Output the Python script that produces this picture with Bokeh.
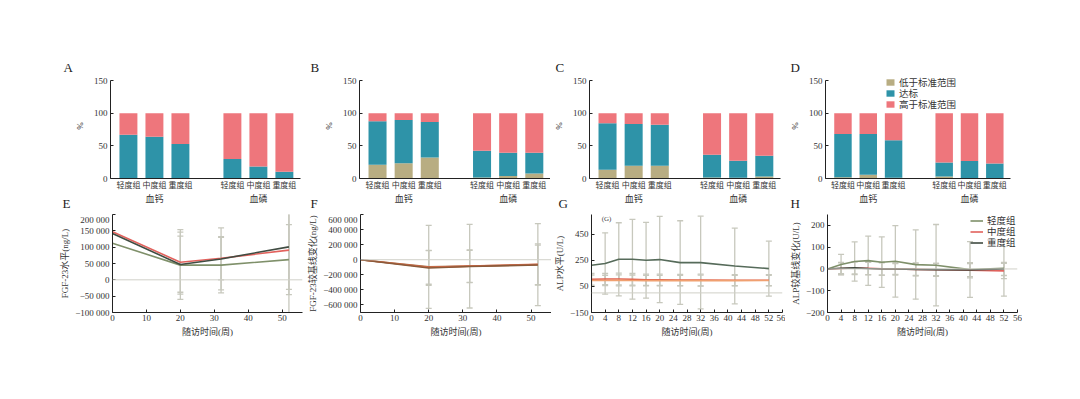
from bokeh.plotting import figure
from bokeh.layouts import column, row
from bokeh.models import (ColumnDataSource, FixedTicker, LinearAxis, Range1d,
                          Label, Legend, LegendItem, Span, Title)
from bokeh.embed import file_html
from bokeh.resources import INLINE

FONT = "'Liberation Serif', 'Noto Sans CJK SC'"

# ---------------- data ----------------
groups = ["轻度组", "中度组", "重度组"]
elements = ["血钙", "血磷"]
status = ["低于标准范围", "达标", "高于标准范围"]
status_colors = ["#b8ad82", "#2e93a8", "#ee767c"]

# stacked % (6 bars: 血钙 轻/中/重, 血磷 轻/中/重); high = 100 - low - ok
A_low = [0, 0, 0, 0, 0, 0]
A_ok = [67, 64, 52.7, 29.7, 18.4, 10.2]
B_low = [21, 23.5, 32.3, 1.5, 4, 7.7]
B_ok = [66.5, 66.1, 54.2, 41, 35.4, 31.7]
C_low = [13.3, 19.5, 19.5, 1.5, 1, 3]
C_ok = [71.2, 64, 62.9, 34.9, 26, 31.8]
D_low = [2, 5.6, 1, 3, 0, 0]
D_ok = [66, 62.4, 57.4, 21.6, 26.6, 23]

line_colors = ["#7f906a", "#e2625d", "#404c42"]

# E: FGF-23 level (ng/L)
E_weeks = [0, 20, 32, 52]
E_mild = [112000, 45000, 45000, 62000]
E_mod = [147000, 54000, 66000, 91000]
E_sev = [142000, 47000, 64000, 101000]
E_mild_sd = [0, 89000, 85000, 107000]
E_mod_sd = [0, 92000, 66000, 120000]
E_sev_sd = [0, 107000, 95000, 300000]

# F: FGF-23 change from baseline (ng/L)
F_weeks = [0, 20, 32, 52]
F_mild = [0, -95000, -85000, -65000]
F_mod = [0, -100000, -85000, -60000]
F_sev = [0, -110000, -90000, -70000]
F_mild_sd = [0, 550000, 555000, 545000]
F_mod_sd = [0, 225000, 215000, 270000]
F_sev_sd = [0, 230000, 215000, 265000]

# G: ALP level (U/L)
G_weeks = [0, 4, 8, 12, 16, 20, 26, 32, 42, 52]
G_mild = [212, 225, 257, 257, 250, 255, 232, 232, 206, 186]
G_mod = [105, 106, 106, 104, 101, 100, 99, 98, 97, 97]
G_sev = [95, 95, 96, 95, 94, 94, 94, 94, 94, 95]
G_mild_sd = [0, 235, 280, 305, 290, 330, 320, 355, 290, 210]
G_mod_sd = [45, 43, 45, 45, 43, 43, 43, 45, 42, 43]
G_sev_sd = [42, 40, 42, 42, 40, 40, 40, 42, 40, 40]

# H: ALP change from baseline (U/L)
H_weeks = [0, 4, 8, 12, 16, 20, 26, 32, 42, 52]
H_mild = [0, 20, 34, 38, 31, 35, 20, 17, -3, 3]
H_mod = [0, 2, 4, 3, 1, 0, -2, -4, -6, -9]
H_sev = [0, 3, 5, 2, 0, 0, -2, -3, -5, 0]
H_mild_sd = [0, 47, 90, 113, 116, 164, 159, 187, 128, 128]
H_mod_sd = [0, 28, 30, 30, 30, 28, 30, 30, 35, 35]
H_sev_sd = [0, 25, 28, 28, 28, 25, 28, 28, 30, 30]


def fmt(v):
    s = f"{abs(int(v)):,}".replace(",", " ")
    return ("−" + s) if v < 0 else s


def style(p):
    p.grid.visible = False
    p.outline_line_color = None
    p.background_fill_color = None
    p.border_fill_color = None
    for ax in p.axis:
        ax.axis_line_color = "#222222"
        ax.major_tick_line_color = "#222222"
        ax.major_tick_in = 3
        ax.major_tick_out = 0
        ax.minor_tick_line_color = None
        ax.major_label_text_font = FONT
        ax.major_label_text_font_size = "9px"
        ax.major_label_text_color = "#333333"
        ax.axis_label_text_font = FONT
        ax.axis_label_text_font_size = "9px"
        ax.axis_label_text_font_style = "normal"
        ax.axis_label_text_color = "#333333"


def letter_title(text, offset, standoff, valign):
    return Title(text=text, align="left", offset=offset, standoff=standoff,
                 vertical_align=valign, text_font=FONT, text_font_size="13px",
                 text_font_style="normal", text_color="#222222")


def add_legend(p, labels, renderers, x, y_first, pitch, gw, gh):
    # one single-item legend per entry, stacked with a fixed pitch
    for i, (l, r) in enumerate(zip(labels, renderers)):
        p.add_layout(Legend(items=[LegendItem(label=l, renderers=[r])],
                            location=(x, y_first - i * pitch),
                            glyph_width=gw, glyph_height=gh, label_height=9,
                            label_standoff=4, spacing=0, padding=0, margin=0,
                            label_text_font=FONT, label_text_font_size="9.5px",
                            label_text_color="#333333", border_line_color=None,
                            background_fill_alpha=0))


TOP_FRAME = 105
TOP_YMAX = 150 * TOP_FRAME / 98


def bar_panel(low, ok, ltr, ltr2, off1, off2, bl, fw, br, legend=False):
    high = [round(100 - a - b, 2) for a, b in zip(low, ok)]
    xs = [g * 4 + i for g in range(len(elements)) for i in range(len(groups))]
    src = ColumnDataSource(dict(x=xs, low=low, ok=ok, high=high))
    p = figure(frame_width=fw, frame_height=TOP_FRAME, min_border_left=bl, min_border_right=br,
               min_border_top=73, min_border_bottom=36,
               x_range=Range1d(-0.69, 6.62), y_range=Range1d(0, TOP_YMAX),
               output_backend="svg", toolbar_location=None)
    rs = p.vbar_stack(["low", "ok", "high"], x="x", width=0.69, color=status_colors,
                      line_color=None, source=src)
    p.xaxis.ticker = FixedTicker(ticks=xs)
    p.xaxis.major_label_overrides = {x: groups[i % 3] for i, x in enumerate(xs)}
    p.yaxis.ticker = FixedTicker(ticks=[0, 50, 100, 150])
    p.yaxis.bounds = (0, 150)
    p.yaxis.axis_label = "%"
    style(p)
    p.xaxis.major_tick_line_color = None
    p.xaxis.major_label_standoff = 2
    p.xaxis.major_label_text_font_size = "8px"
    p.yaxis.major_label_standoff = 3
    p.yaxis.axis_label_standoff = 6
    centers = [sum(xs[g * 3:(g + 1) * 3]) / 3 for g in range(len(elements))]
    gax = LinearAxis(ticker=FixedTicker(ticks=centers),
                     major_label_overrides={c: elements[g] for g, c in enumerate(centers)},
                     axis_line_color=None, major_tick_line_color=None, minor_tick_line_color=None,
                     major_label_standoff=-5, major_label_text_font=FONT,
                     major_label_text_font_size="9px", major_label_text_color="#333333")
    p.add_layout(gax, "below")
    p.title = letter_title(ltr, off1, -3, "bottom")
    p.add_layout(letter_title(ltr2, off2, -22, "top"), "below")
    if legend:
        add_legend(p, status, rs, 60, 89, 11, 10, 8)
    return p


def line_panel(weeks, means, sds, yr, yticks, ylabel, xticks, bl, fw, br,
               legend=False, colors=None, note=None):
    colors = colors or line_colors
    p = figure(frame_width=fw, frame_height=98, min_border_left=bl, min_border_right=br,
               min_border_top=0, min_border_bottom=32,
               x_range=Range1d(0, 56), y_range=Range1d(*yr),
               output_backend="svg", toolbar_location=None)
    p.add_layout(Span(location=0, dimension="width", line_color="#d0d0c8", line_width=1))
    for m, s, c in zip(means, sds, colors):
        ex = [w for w, sd in zip(weeks, s) if sd > 0]
        lo = [mm - sd for mm, sd in zip(m, s) if sd > 0]
        hi = [mm + sd for mm, sd in zip(m, s) if sd > 0]
        p.segment(x0=ex, y0=lo, x1=ex, y1=hi, line_color="#c7c8bd", line_width=1.3)
        p.scatter(x=ex + ex, y=lo + hi, marker="dash", size=6, line_color="#c7c8bd",
                  line_width=1.3)
    rs = []
    for m, c in zip(means, colors):
        rs.append(p.line(weeks, m, line_color=c, line_width=1.6))
    p.xaxis.ticker = FixedTicker(ticks=xticks)
    p.yaxis.ticker = FixedTicker(ticks=yticks)
    p.yaxis.major_label_overrides = {t: fmt(t) for t in yticks}
    p.yaxis.axis_label = ylabel
    p.xaxis.axis_label = "随访时间(周)"
    style(p)
    p.xaxis.major_label_standoff = 2
    p.xaxis.axis_label_standoff = 3
    p.yaxis.major_label_standoff = 3
    p.yaxis.axis_label_standoff = 2
    if note:
        p.add_layout(Label(x=3, y=yr[1] - 62, text=note, text_font=FONT,
                           text_font_size="7px", text_color="#444444"))
    if legend:
        add_legend(p, groups, rs, 143, 85, 11, 13, 9)
    return p


pa = bar_panel(A_low, A_ok, "A", "E", -47, -48, 110, 190, 5)
pb = bar_panel(B_low, B_ok, "B", "F", -49, -49, 54, 191, 0)
pc = bar_panel(C_low, C_ok, "C", "G", -34, -31, 36, 191, 3)
pd = bar_panel(D_low, D_ok, "D", "H", -35, -35, 42, 185, 10, legend=True)

wk10 = [0, 10, 20, 30, 40, 50]
wk4 = list(range(0, 57, 4))
pe = line_panel(E_weeks, [E_mild, E_mod, E_sev], [E_mild_sd, E_mod_sd, E_sev_sd],
                (-100000, 200000), list(range(-100000, 200001, 50000)),
                "FGF-23水平(ng/L)", wk10, 112, 190, 3)
pf = line_panel(F_weeks, [F_mild, F_mod, F_sev], [F_mild_sd, F_mod_sd, F_sev_sd],
                (-700000, 600000), list(range(-600000, 600001, 200000)),
                "FGF-23较基线变化(ng/L)", wk10, 54, 191, 0,
                colors=["#a06a40", "#d86a4a", "#8a5a3a"])
pg = line_panel(G_weeks, [G_mild, G_mod, G_sev], [G_mild_sd, G_mod_sd, G_sev_sd],
                (-150, 600), [-150, 50, 250, 450], "ALP水平(U/L)", wk4, 36, 191, 3,
                colors=["#566b5a", "#e0604e", "#f0a070"], note="(G)")
ph = line_panel(H_weeks, [H_mild, H_mod, H_sev], [H_mild_sd, H_mod_sd, H_sev_sd],
                (-200, 250), [-200, -100, 0, 100, 200], "ALP较基线变化(U/L)", wk4,
                42, 190, 5, legend=True)

layout = column(row(pa, pb, pc, pd), row(pe, pf, pg, ph), spacing=0)
open("out.html", "w").write(file_html(layout, INLINE))
